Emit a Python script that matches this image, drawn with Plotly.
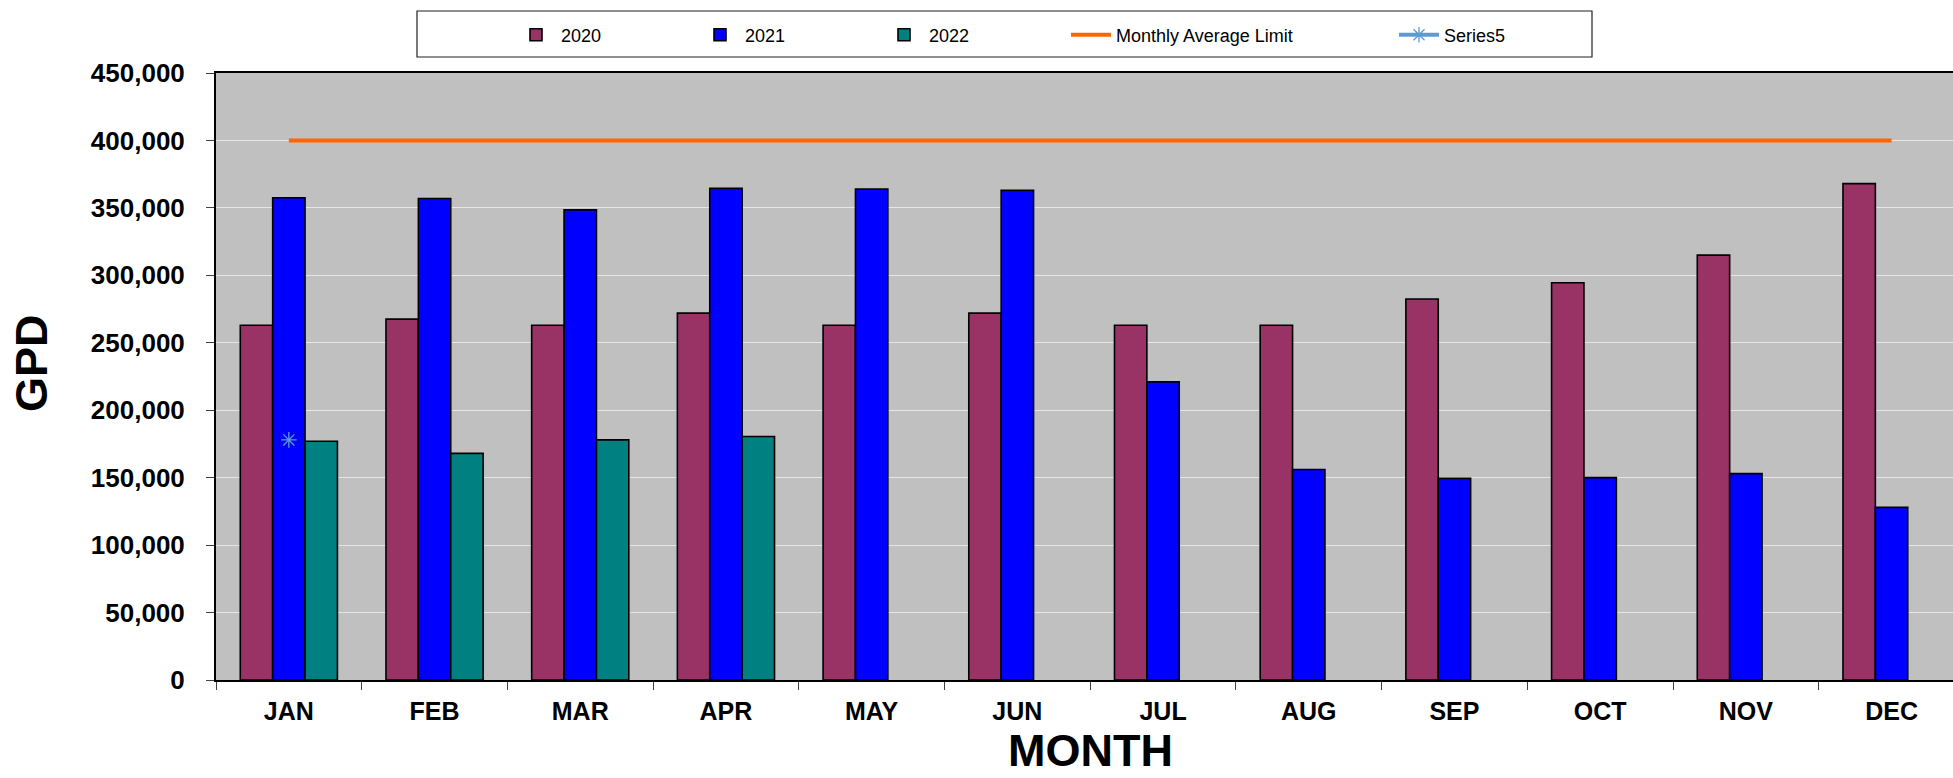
import plotly.graph_objects as go

# Monthly flow data (gallons per day)
months = ["JAN", "FEB", "MAR", "APR", "MAY", "JUN",
          "JUL", "AUG", "SEP", "OCT", "NOV", "DEC"]
gpd_2020 = [263000, 267500, 263000, 272000, 263000, 272000,
            263000, 263000, 282500, 294500, 315000, 368000]
gpd_2021 = [357500, 357000, 348500, 364500, 364000, 363000,
            221000, 156000, 149500, 150000, 153000, 128000]
gpd_2022 = [177000, 168000, 178000, 180500, None, None,
            None, None, None, None, None, None]
monthly_limit = [400000] * 12
series5_months = ["JAN"]
series5_values = [178000]

# Pixel geometry of the figure
W, H = 1953, 778
L, R, T, B = 216, 0, 73, 98
PW, PH = W - L - R, H - T - B
CAT_PX = 145.7  # width of one month slot


def px_x(x):
    return (x - L) / PW


def px_y(y):
    return (H - B - y) / PH


FONT = "Liberation Sans, Arial, sans-serif"

fig = go.Figure()

bar_line = dict(color="black", width=1.6)
fig.add_trace(go.Bar(x=months, y=gpd_2020, name="2020",
                     marker=dict(color="#993366", line=bar_line)))
fig.add_trace(go.Bar(x=months, y=gpd_2021, name="2021",
                     marker=dict(color="#0000FF", line=bar_line)))
fig.add_trace(go.Bar(x=months, y=gpd_2022, name="2022",
                     marker=dict(color="#008080", line=bar_line)))
fig.add_trace(go.Scatter(x=months, y=monthly_limit, name="Monthly Average Limit",
                         mode="lines", legend="legend2",
                         line=dict(color="#FF6600", width=4)))
fig.add_trace(go.Scatter(x=series5_months, y=series5_values, name="Series5",
                         mode="lines+markers", legend="legend3",
                         line=dict(color="#5B9BD5", width=4),
                         marker=dict(symbol="asterisk-open", size=13,
                                     line=dict(color="#5B9BD5", width=1.3))))

legend_common = dict(
    orientation="h",
    font=dict(family=FONT, size=18, color="black"),
    bgcolor="rgba(0,0,0,0)",
    yanchor="middle",
    y=px_y(35),
    xanchor="left",
    itemwidth=40,
    tracegroupgap=0,
)

fig.update_layout(
    width=W, height=H,
    margin=dict(l=L, r=R, t=T, b=B, pad=0),
    paper_bgcolor="white",
    plot_bgcolor="#C0C0C0",
    barmode="group",
    bargap=1.5 / 4.5,
    bargroupgap=0,
    showlegend=True,
    legend=dict(x=px_x(511), entrywidth=129, entrywidthmode="pixels",
                traceorder="normal", **legend_common),
    legend2=dict(x=px_x(1066), **legend_common),
    legend3=dict(x=px_x(1394), **legend_common),
    xaxis=dict(
        type="category",
        range=[-0.5, -0.5 + PW / CAT_PX],
        showline=True, linecolor="black", linewidth=2, mirror=True,
        ticks="outside", ticklen=8, tickcolor="#404040", tickwidth=1,
        tickson="boundaries",
        showgrid=False,
        tickfont=dict(family=FONT, size=25, color="black", weight="bold"),
        ticklabelstandoff=8,
    ),
    yaxis=dict(
        range=[0, 450000],
        tick0=0, dtick=50000,
        tickformat=",",
        showline=True, linecolor="black", linewidth=2,
        ticks="outside", ticklen=8, tickcolor="#404040", tickwidth=1,
        showgrid=True, gridcolor="#E6E6E6", gridwidth=1,
        zeroline=False,
        tickfont=dict(family=FONT, size=26, color="black", weight="bold"),
        ticklabelstandoff=16,
    ),
    shapes=[
        dict(type="rect", xref="paper", yref="paper",
             x0=px_x(417), x1=px_x(1592), y0=px_y(57), y1=px_y(11),
             line=dict(color="#202020", width=1.2), fillcolor="rgba(0,0,0,0)",
             layer="above"),
    ],
    annotations=[
        dict(text="MONTH", xref="paper", yref="paper",
             x=px_x(1090), y=px_y(750), xanchor="center", yanchor="middle",
             showarrow=False,
             font=dict(family=FONT, size=45, color="black", weight="bold")),
        dict(text="GPD", xref="paper", yref="paper",
             x=px_x(31), y=px_y(363), xanchor="center", yanchor="middle",
             textangle=-90, showarrow=False,
             font=dict(family=FONT, size=45, color="black", weight="bold")),
    ],
)

fig.write_html("out.html")
